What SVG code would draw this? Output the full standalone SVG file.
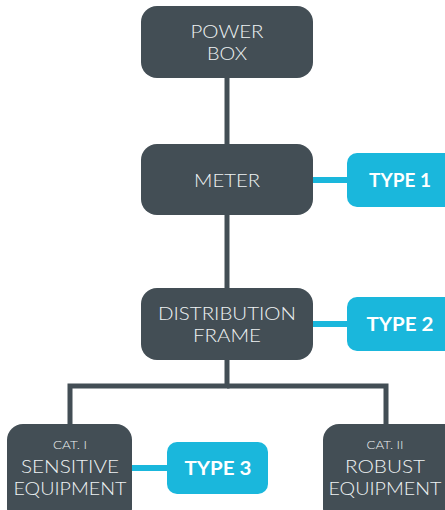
<svg xmlns="http://www.w3.org/2000/svg" width="445" height="510" viewBox="0 0 445 510">
<style>
.node{fill:#434e55}
.tag{fill:#1ab7dc}
.t{font-family:Lato,"Open Sans","Liberation Sans",sans-serif;fill:#eef2f3;text-anchor:middle;font-size:18px;font-weight:300}
.s{font-size:11px}
.b{font-weight:700;fill:#ffffff}
.ln{stroke:#434e55;stroke-width:5;fill:none}
.cl{stroke:#1ab7dc;stroke-width:6;fill:none}
</style>
<rect width="445" height="510" fill="#ffffff"/>
<g id="connectors">
<line class="ln" x1="227" y1="76" x2="227" y2="146"/>
<line class="ln" x1="227" y1="213" x2="227" y2="290"/>
<polyline class="ln" points="227,358 227,386 70,386 70,426"/>
<polyline class="ln" points="227,386 386,386 386,426"/>
<line class="cl" x1="311" y1="180" x2="349" y2="180"/>
<line class="cl" x1="310" y1="324" x2="349" y2="324"/>
<line class="cl" x1="130" y1="468" x2="169" y2="468"/>
</g>
<g id="power-box">
<rect class="node" x="141" y="6" width="172" height="72" rx="16"/>
<text class="t" x="227" y="38" textLength="73" lengthAdjust="spacingAndGlyphs">POWER</text>
<text class="t" x="227" y="60" textLength="40" lengthAdjust="spacingAndGlyphs">BOX</text>
</g>
<g id="meter">
<rect class="node" x="141" y="144" width="172" height="71" rx="16"/>
<text class="t" x="227" y="187" textLength="66" lengthAdjust="spacingAndGlyphs">METER</text>
</g>
<g id="type1">
<rect class="tag" x="347" y="153" width="108" height="54" rx="10"/>
<text class="t b" x="400" y="187" textLength="62" lengthAdjust="spacingAndGlyphs">TYPE 1</text>
</g>
<g id="distribution-frame">
<rect class="node" x="141" y="288" width="172" height="72" rx="16"/>
<text class="t" x="227" y="320" textLength="138" lengthAdjust="spacingAndGlyphs">DISTRIBUTION</text>
<text class="t" x="227" y="342" textLength="68" lengthAdjust="spacingAndGlyphs">FRAME</text>
</g>
<g id="type2">
<rect class="tag" x="347" y="297" width="108" height="54" rx="10"/>
<text class="t b" x="400" y="331" textLength="67" lengthAdjust="spacingAndGlyphs">TYPE 2</text>
</g>
<g id="sensitive-equipment">
<rect class="node" x="7" y="424" width="125" height="100" rx="16"/>
<text class="t s" x="70" y="449" textLength="34" lengthAdjust="spacingAndGlyphs">CAT. I</text>
<text class="t" x="70" y="473" textLength="98" lengthAdjust="spacingAndGlyphs">SENSITIVE</text>
<text class="t" x="70" y="495" textLength="113" lengthAdjust="spacingAndGlyphs">EQUIPMENT</text>
</g>
<g id="type3">
<rect class="tag" x="167" y="442" width="101" height="52" rx="10"/>
<text class="t b" x="218" y="475" textLength="67" lengthAdjust="spacingAndGlyphs">TYPE 3</text>
</g>
<g id="robust-equipment">
<rect class="node" x="323" y="424" width="140" height="100" rx="16"/>
<text class="t s" x="385" y="449" textLength="37" lengthAdjust="spacingAndGlyphs">CAT. II</text>
<text class="t" x="385" y="473" textLength="80" lengthAdjust="spacingAndGlyphs">ROBUST</text>
<text class="t" x="385" y="495" textLength="113" lengthAdjust="spacingAndGlyphs">EQUIPMENT</text>
</g>
</svg>
